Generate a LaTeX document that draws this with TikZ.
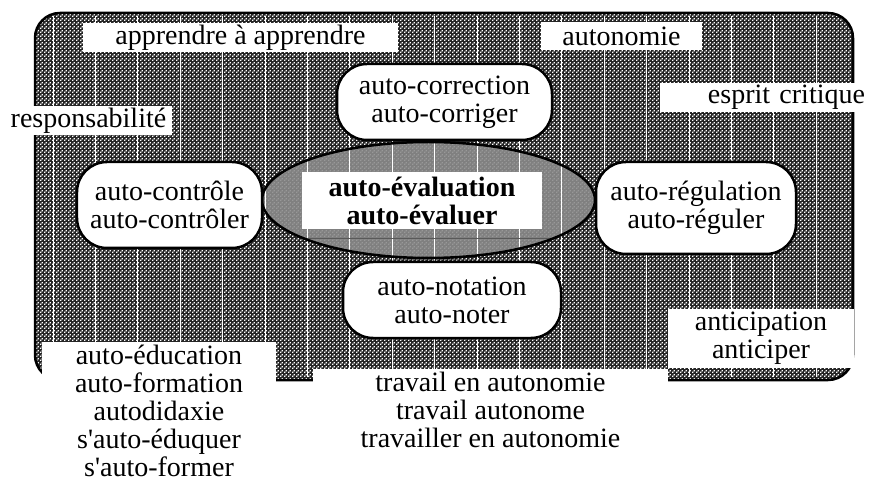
\documentclass[tikz,border=0pt]{standalone}
\usepackage{fontspec}
\setmainfont{Liberation Serif}
\usepackage{tikz}
\usetikzlibrary{patterns,shapes.geometric}
\pgfdeclarepatternformonly{finecheck}{\pgfpointorigin}{\pgfqpoint{4bp}{4bp}}{\pgfqpoint{4bp}{4bp}}{%
  \pgfpathrectangle{\pgfpointorigin}{\pgfqpoint{1.6bp}{1.6bp}}%
  \pgfpathrectangle{\pgfqpoint{2bp}{2bp}}{\pgfqpoint{1.6bp}{1.6bp}}%
  \pgfusepath{fill}}
\tikzstyle{whitebox} = [fill=white, inner sep=0pt, align=center, font=\fontsize{28bp}{28bp}\selectfont]
\tikzstyle{roundbox} = [draw, line width=2.5bp, rounded corners=30bp, fill=white, inner sep=0pt, align=center, font=\fontsize{28bp}{28bp}\selectfont]

\begin{document}
\begin{tikzpicture}[x=1bp, y=-1bp]
            \useasboundingbox (0,0) rectangle (870,481);
            \fill[black!85, rounded corners=25bp] (35,13) rectangle (853,380);
            \fill[pattern=finecheck, pattern color=white, rounded corners=25bp] (35,13) rectangle (853,380);
            \node[ellipse, fill=black!50, postaction={pattern=finecheck, pattern color=black!40},
            minimum width=333bp, minimum height=116bp, inner sep=0pt] (eval) at (428.5,200) {};
            \foreach \k in {0,...,18}
                \draw[white, line width=0.8bp] ({53+42.4*\k},16) -- ({53+42.4*\k},377);
            \draw[black!65, line width=0.8bp] (304,238) -- (553,238);
            \draw[line width=2.5bp] (eval.center) ellipse [x radius=166.5bp, y radius=58bp];
            \draw[line width=2.5bp, rounded corners=25bp] (35,13) rectangle (853,380);

            \node[roundbox, minimum width=215bp, minimum height=76bp] (correction) at (444.5,102)
            {auto-correction\\auto-corriger};
            \node[roundbox, minimum width=185bp, minimum height=86bp] (controle) at (169.5,205)
            {auto-contrôle\\auto-contrôler};
            \node[roundbox, minimum width=200bp, minimum height=92bp] (regulation) at (696,208)
            {auto-régulation\\auto-réguler};
            \node[roundbox, minimum width=218bp, minimum height=76bp] (notation) at (452,300)
            {auto-notation\\auto-noter};
            \node[whitebox, minimum width=240bp, minimum height=57bp, font=\fontsize{28bp}{28bp}\selectfont\bfseries]
            (evaluation) at (422,201) {auto-évaluation\\auto-évaluer};

            \node[whitebox, minimum width=315bp, minimum height=29bp] (apprendre) at (240.5,37.5) {apprendre à apprendre};
            \node[whitebox, minimum width=161bp, minimum height=28bp] (autonomie) at (621.5,36) {autonomie};
            \node[whitebox, minimum width=210bp, minimum height=29bp, text width=200bp, align=right] (critique) at (765,97.5) {esprit critique};
            \node[whitebox, minimum width=167bp, minimum height=29bp] (responsabilite) at (88.5,120.5) {responsabilité};
            \node[whitebox, minimum width=186bp, minimum height=58bp] (anticipation) at (761,338.5)
            {anticipation\\anticiper};
            \node[whitebox, minimum width=355bp, minimum height=82bp] (travail) at (490.5,409.8)
            {travail en autonomie\\travail autonome\\travailler en autonomie};
            \node[whitebox, minimum width=234bp, minimum height=137bp] (education) at (159,410.5)
            {auto-éducation\\auto-formation\\autodidaxie\\s\textquotesingle auto-éduquer\\s\textquotesingle auto-former};
        \end{tikzpicture}
\end{document}
